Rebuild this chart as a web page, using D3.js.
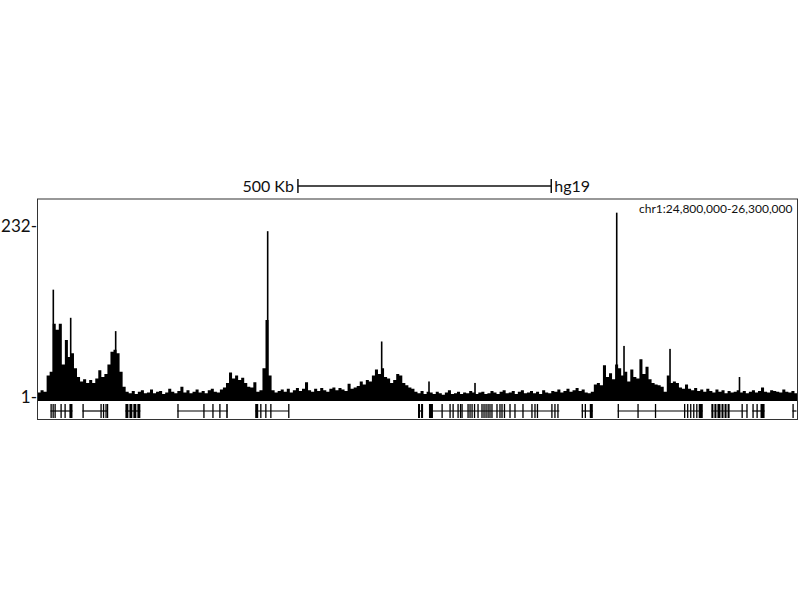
<!DOCTYPE html>
<html><head><meta charset="utf-8">
<script src="https://cdn.jsdelivr.net/npm/d3@7"></script>
<style>body{margin:0;background:#fff}text{font-family:Lato,"Open Sans",sans-serif;fill:#111}</style>
</head><body>
<svg id="c" width="800" height="600"></svg>
<script>
// ---- data ----
const chrom = "chr1";
const regionStart = 24800000;
const regionEnd = 26300000;
const binSize = 6000; // bp per signal bin
const yTicks = [1, 232];
const scaleBarStart = 25314000;
const scaleBarLength = 500000;
const scaleBarLabel = "500 Kb";
const assembly = "hg19";
// signal values per 6 kb bin (background shape)
const signal = [
7,10,8,30,35,100,92,100,45,78,55,60,40,28,22,25,20,24,20,26,37,28,32,45,62,65,60,35,15,8,
6,9,5,8,10,6,7,11,6,8,9,5,7,12,8,6,9,15,7,10,6,8,11,7,9,6,10,12,8,7,11,14,
20,34,26,30,24,27,20,15,14,21,8,10,40,105,30,10,
7,9,11,8,12,7,10,13,9,12,21,10,8,12,9,13,10,8,12,14,10,13,11,9,19,12,14,16,22,18,
24,22,30,38,32,40,28,26,20,24,32,30,20,17,14,12,8,
6,9,5,8,7,5,8,6,4,7,10,5,6,8,5,7,6,9,7,5,7,8,5,6,9,7,5,8,10,6,7,9,5,8,10,6,7,9,6,8,5,10,7,6,9,8,11,7,9,12,8,10,13,9,11,
7,6,8,18,20,17,44,28,33,25,45,40,30,35,22,38,28,26,52,32,42,25,20,18,17,15,8,30,20,22,20,14,12,18,12,
10,13,9,11,8,12,9,7,11,8,10,6,9,7,8,10,7,9,6,8,10,7,9,14,8,7,10,9,8,7,11,8,7,9,6
];
// narrow summits: [kb offset from regionStart, value]
const summits = [[31.2,146],[65.5,108],[154.3,90],[454.3,225],[679.3,76],[772.7,22],[863.5,20],[1143.2,250],[1157.6,70],[1248.4,66],[1385.5,28]];
// genes: line spans, kb offsets from regionStart
const geneSpans = [[25.6,69],[88.7,139],[173.5,203],[276,375.5],[429.7,496],[751,761],[772.6,1030],[1074,1096],[1145,1313],[1330,1401],[1411,1435],[1490,1498]];
// exons: kb offsets from regionStart
const exons = [
[25.6,27.6],[29.6,31.5],[33.5,35.5],[45.3,47.3],[53.2,55.2],[63,69],
[88.7,90.7],[124.2,126.1],[129.1,131.1],[134,136],[137,139],
[173.5,179.4],[181.4,187.2],[189.2,195.1],[197.1,203],
[276,278],[327.2,329.2],[345,347],[358.7,360.7],[372.5,375.5],
[429.7,435.6],[439.5,441.5],[449.4,451.3],[459.3,461.2],[494.7,496.3],
[751,755],[757,761],
[772.6,780.5],[797.3,799.6],[813,815.3],[819,821.3],[828.8,831.1],[833.7,836],[836.7,839],[848.5,850.8],[852.4,854.7],[856.4,858.7],[861.3,863.6],[868.2,870.5],[876,878.3],[880,882.3],[884,886.3],[888,890.3],[891.8,894.1],[895.7,898],[905.6,907.9],[911.5,913.8],[915.5,917.8],[920.4,922.7],[931.3,933.6],[941.1,943.4],[956.9,959.2],[974.6,976.9],[980.6,982.9],[985.5,987.8],[1014,1016.3],[1020,1022.3],[1025.9,1028.2],
[1074,1076],[1080,1082],[1090,1096],
[1145,1147],[1184,1186],[1218.5,1220.5],[1276,1278],[1282,1284],[1288,1290],[1294,1296],[1300,1302],[1305,1313],
[1330,1334],[1336,1340],[1342,1348],[1350,1354],[1356,1360],[1362,1366],[1389.5,1391.5],[1399,1401],
[1411,1413],[1419,1421],[1427,1435],
[1490,1492]
];

// ---- drawing ----
const svg = d3.select("#c");
const frame = {x0: 37.5, x1: 797.5, y0: 199, y1: 419.5};
const sigBottom = 401;
const x = d3.scaleLinear().domain([regionStart, regionEnd]).range([frame.x0, frame.x1]);
const y = d3.scaleLinear().domain([-4.4, 232]).range([sigBottom, 226]);
const kb = k => x(regionStart + k * 1000);

// signal area (step profile)
const pts = signal.map((v, i) => [regionStart + i * binSize, v]);
pts.push([regionStart + signal.length * binSize, signal[signal.length - 1]]);
const area = d3.area().curve(d3.curveStepAfter)
  .x(d => x(d[0])).y0(sigBottom).y1(d => y(d[1]));
svg.append("path").datum(pts).attr("d", area).attr("fill", "#000");

// narrow summits
svg.append("g").selectAll("rect").data(summits).join("rect")
  .attr("x", d => kb(d[0]) - 0.8).attr("width", 1.6)
  .attr("y", d => y(d[1])).attr("height", d => sigBottom - y(d[1]))
  .attr("fill", "#000");

// gene track
const geneMid = 411;
svg.append("g").selectAll("line").data(geneSpans).join("line")
  .attr("x1", d => kb(d[0])).attr("x2", d => kb(d[1]))
  .attr("y1", geneMid).attr("y2", geneMid)
  .attr("stroke", "#000").attr("stroke-width", 1.2);
svg.append("g").selectAll("rect").data(exons).join("rect")
  .attr("x", d => kb(d[0])).attr("width", d => Math.max(1.3, kb(d[1]) - kb(d[0])))
  .attr("y", 404).attr("height", 14).attr("fill", "#000");

// frame
svg.append("rect").attr("x", frame.x0).attr("y", frame.y0)
  .attr("width", frame.x1 - frame.x0).attr("height", frame.y1 - frame.y0)
  .attr("fill", "none").attr("stroke", "#333").attr("stroke-width", 1);

// y axis
const yAxis = d3.axisLeft(y).tickValues(yTicks).tickSize(0).tickPadding(0).tickFormat(d => d + "-");
const ga = svg.append("g").attr("transform", `translate(${frame.x0 - 0.5},0)`).call(yAxis);
ga.select(".domain").remove();
ga.selectAll("text").attr("font-size", 17).attr("font-family", "Lato, sans-serif").attr("fill", "#111").attr("dy", "0.35em");

// region label
svg.append("text").attr("x", frame.x1 - 5).attr("y", 213).attr("text-anchor", "end")
  .attr("font-size", 12).text(`${chrom}:${d3.format(",")(regionStart)}-${d3.format(",")(regionEnd)}`);

// scale bar
const sbx0 = x(scaleBarStart), sbx1 = x(scaleBarStart + scaleBarLength), sby = 186;
const sb = svg.append("g").attr("stroke", "#111").attr("stroke-width", 1.5);
sb.append("line").attr("x1", sbx0).attr("x2", sbx1).attr("y1", sby).attr("y2", sby);
sb.append("line").attr("x1", sbx0).attr("x2", sbx0).attr("y1", sby - 7).attr("y2", sby + 7);
sb.append("line").attr("x1", sbx1).attr("x2", sbx1).attr("y1", sby - 7).attr("y2", sby + 7);
svg.append("text").attr("x", sbx0 - 4).attr("y", sby).attr("dy", "0.35em").attr("text-anchor", "end")
  .attr("font-size", 16).text(scaleBarLabel);
svg.append("text").attr("x", sbx1 + 3).attr("y", sby).attr("dy", "0.35em")
  .attr("font-size", 16).text(assembly);
</script>
</body></html>
